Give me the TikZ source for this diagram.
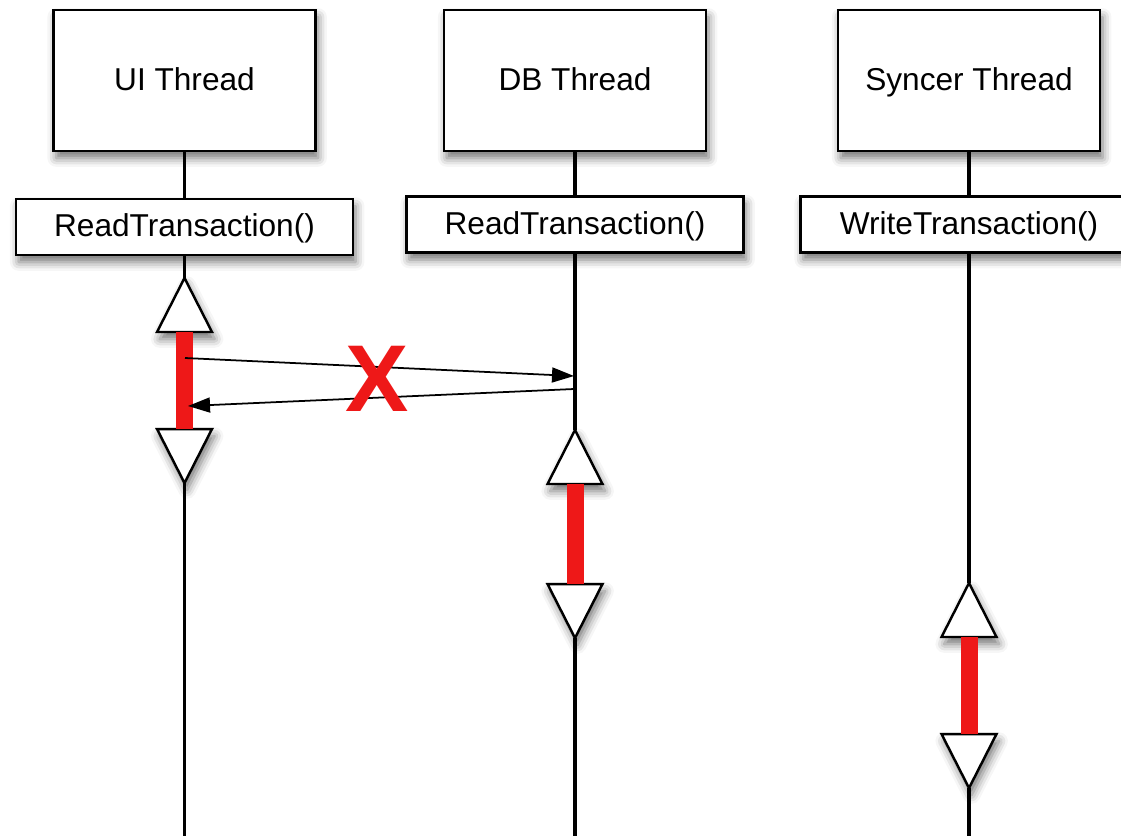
\documentclass[tikz,border=0pt]{standalone}
\usepackage{fontspec}
\setmainfont{Liberation Sans}
\usetikzlibrary{shapes.geometric,shadows.blur,arrows.meta}
\definecolor{lockred}{RGB}{238,24,24}

\begin{document}
\begin{tikzpicture}[x=0.02cm, y=-0.02cm,
    soft/.style={blur shadow={shadow xshift=1.5pt, shadow yshift=-4pt, shadow blur radius=5pt, shadow opacity=55}},
    thread/.style={rectangle, draw, line width=1.4pt, fill=white, minimum width=5.24cm, minimum height=2.82cm, text depth=0.22em, font=\fontsize{18}{20}\selectfont, soft},
    call/.style={rectangle, draw, line width=1.4pt, fill=white, minimum width=6.74cm, minimum height=1.12cm, text depth=0.22em, font=\fontsize{18}{20}\selectfont, soft},
    upmark/.style={isosceles triangle, shape border rotate=90, isosceles triangle stretches, minimum width=1.1cm, minimum height=1.08cm, inner sep=0pt, outer sep=0pt, draw, line width=1.4pt, fill=white, anchor=apex, soft},
    downmark/.style={upmark, shape border rotate=270},
    life/.style={line width=2.2pt},
    lock/.style={line width=0.34cm, lockred},
    msg/.style={line width=1pt, -{Triangle[length=0.44cm, width=0.3cm]}}
]
\clip (0,0) rectangle (1121,836);

% UI side
\node[thread] (ui) at (184.5,80.5) {UI Thread};
\node[call] (ui_read) at (184.5,227) {ReadTransaction()};
\node[upmark] (ui_up) at (184.5,278) {};
\node[downmark] (ui_down) at (184.5,483) {};
\coordinate (ui_end) at (184.5,836);

% DB side
\node[thread] (db) at (575,80.5) {DB Thread};
\node[call] (db_read) at (575,224.5) {ReadTransaction()};
\node[upmark] (db_up) at (575,430) {};
\node[downmark] (db_down) at (575,638) {};
\coordinate (db_end) at (575,836);

% Syncer side
\node[thread] (sy) at (969,80.5) {Syncer Thread};
\node[call] (sy_read) at (969,224.5) {WriteTransaction()};
\node[upmark] (sy_up) at (969,583) {};
\node[downmark] (sy_down) at (969,788) {};
\coordinate (sy_end) at (969,836);

% Lifelines
\draw[life] (ui) -- (ui_read);
\draw[life] (ui_read) -- (ui_up.apex);
\draw[life] (ui_down.apex) -- (ui_end);
\draw[life] (db) -- (db_read);
\draw[life] (db_read) -- (db_up.apex);
\draw[life] (db_down.apex) -- (db_end);
\draw[life] (sy) -- (sy_read);
\draw[life] (sy_read) -- (sy_up.apex);
\draw[life] (sy_down.apex) -- (sy_end);

% Locks held
\draw[lock] (ui_up.south) -- (ui_down.north);
\draw[lock] (db_up.south) -- (db_down.north);
\draw[lock] (sy_up.south) -- (sy_down.north);

% Blocked call
\coordinate (ui_out) at (185,358);
\coordinate (db_in) at (574,376);
\coordinate (db_out) at (574,389);
\coordinate (ui_in) at (188,406);
\draw[msg] (ui_out) -- (db_in);
\draw[msg] (db_out) -- (ui_in);
\node[font=\fontsize{54}{54}\selectfont\bfseries, text=lockred, inner sep=0pt] (blocked) at (377,379) {X};

\end{tikzpicture}
\end{document}
